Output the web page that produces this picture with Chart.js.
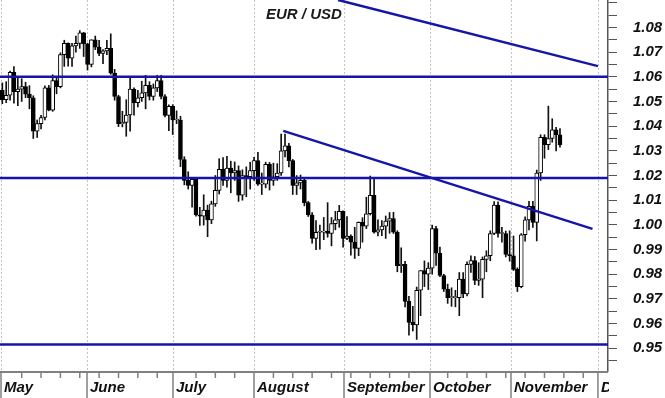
<!DOCTYPE html>
<html>
<head>
<meta charset="utf-8">
<script src="https://cdn.jsdelivr.net/npm/chart.js@4.4.1/dist/chart.umd.min.js"></script>
<style>
body { margin: 0; background: #fff; }
</style>
</head>
<body>
<canvas id="myChart" width="665" height="398"></canvas>
<script>
// EUR/USD daily candles, trading day 0 = May 2 ... 144 = Nov 18
var opens = [
  1.0545,1.0507,1.0525,1.0618,1.0540,1.0550,1.0560,1.0530,1.0515,1.0380,1.0410,1.0435,1.0555,1.0465,1.0585,1.0560,1.0690,1.0735,1.0675,1.0725,1.0735,1.0778,
  1.0733,1.0650,1.0750,1.0720,1.0695,1.0705,1.0715,1.0615,1.0520,1.0410,1.0415,1.0445,1.0550,1.0495,1.0515,1.0535,1.0565,1.0520,1.0555,1.0585,1.0520,1.0443,
  1.0480,1.0425,1.0425,1.0265,1.0180,1.0160,1.0185,1.0040,1.0035,1.0060,1.0020,1.0085,1.0140,1.0225,1.0180,1.0230,1.0210,1.0220,1.0120,1.0200,1.0195,
  1.0220,1.0260,1.0165,1.0165,1.0245,1.0180,1.0195,1.0210,1.0300,1.0320,1.0260,1.0160,1.0170,1.0180,1.0090,1.0040,0.9945,0.9970,0.9970,0.9975,0.9965,1.0005,1.0020,
  1.0055,0.9945,0.9955,0.9930,0.9905,1.0010,0.9995,1.0045,1.0120,0.9970,0.9980,0.9995,1.0015,1.0025,0.9970,0.9835,0.9840,0.9690,0.9605,0.9595,0.9735,0.9815,
  0.9800,0.9825,0.9985,0.9885,0.9795,0.9740,0.9705,0.9705,0.9705,0.9780,0.9720,0.9840,0.9855,0.9775,0.9780,0.9860,0.9875,0.9965,1.0080,0.9965,0.9965,
  0.9880,0.9875,0.9820,0.9750,0.9960,1.0020,1.0075,1.0010,1.0210,1.0355,1.0325,1.0350,1.0385,1.0365
];
var highs = [
  1.0575,1.0580,1.0623,1.0641,1.0600,1.0592,1.0578,1.0564,1.0523,1.0425,1.0444,1.0563,1.0565,1.0608,1.0598,1.0697,1.0748,1.0737,1.0735,1.0765,1.0787,1.0780,
  1.0736,1.0750,1.0765,1.0748,1.0710,1.0748,1.0774,1.0630,1.0525,1.0460,1.0507,1.0601,1.0555,1.0545,1.0582,1.0606,1.0580,1.0571,1.0606,1.0606,1.0528,1.0486,
  1.0487,1.0462,1.0440,1.0276,1.0215,1.0186,1.0190,1.0071,1.0122,1.0080,1.0096,1.0200,1.0268,1.0273,1.0278,1.0258,1.0255,1.0239,1.0223,1.0235,1.0254,
  1.0274,1.0294,1.0210,1.0254,1.0253,1.0250,1.0248,1.0368,1.0368,1.0330,1.0265,1.0200,1.0202,1.0190,1.0095,1.0050,1.0017,0.9999,1.0030,1.0090,1.0030,1.0055,1.0079,
  1.0057,1.0034,0.9960,0.9990,1.0012,1.0029,1.0112,1.0198,1.0187,1.0020,1.0017,1.0036,1.0050,1.0051,0.9976,0.9907,0.9852,0.9710,0.9670,0.9748,0.9815,0.9854,
  0.9847,0.9999,0.9994,0.9910,0.9800,0.9760,0.9745,0.9735,0.9807,0.9807,0.9850,0.9875,0.9872,0.9847,0.9870,0.9895,0.9976,1.0094,1.0093,0.9990,0.9975,
  0.9976,0.9955,0.9826,0.9965,1.0033,1.0095,1.0095,1.0222,1.0365,1.0365,1.0481,1.0430,1.0395,1.0390
];
var lows = [
  1.0491,1.0495,1.0505,1.0493,1.0483,1.0500,1.0515,1.0470,1.0350,1.0354,1.0389,1.0425,1.0462,1.0460,1.0531,1.0555,1.0642,1.0643,1.0642,1.0700,1.0715,1.0682,
  1.0627,1.0640,1.0710,1.0685,1.0653,1.0690,1.0610,1.0505,1.0398,1.0397,1.0359,1.0380,1.0444,1.0478,1.0500,1.0470,1.0506,1.0505,1.0540,1.0510,1.0437,1.0382,
  1.0366,1.0410,1.0236,1.0162,1.0145,1.0072,1.0035,0.9998,0.9999,0.9952,1.0005,1.0075,1.0125,1.0160,1.0153,1.0130,1.0180,1.0095,1.0100,1.0114,1.0145,
  1.0180,1.0160,1.0123,1.0150,1.0141,1.0160,1.0180,1.0200,1.0275,1.0235,1.0123,1.0123,1.0145,1.0077,1.0034,0.9926,0.9900,0.9902,0.9940,0.9950,0.9915,0.9980,0.9990,
  0.9910,0.9940,0.9877,0.9864,0.9875,0.9930,0.9985,1.0040,0.9966,0.9955,0.9956,0.9945,0.9966,0.9965,0.9810,0.9807,0.9668,0.9553,0.9570,0.9536,0.9632,0.9750,
  0.9738,0.9800,0.9836,0.9790,0.9730,0.9682,0.9670,0.9668,0.9632,0.9705,0.9712,0.9807,0.9758,0.9755,0.9705,0.9810,0.9855,0.9960,0.9950,0.9930,0.9870,
  0.9853,0.9815,0.9730,0.9745,0.9934,0.9980,0.9990,0.9935,1.0180,1.0270,1.0305,1.0335,1.0300,1.0315
];
var closes = [
  1.0507,1.0525,1.0618,1.0540,1.0550,1.0560,1.0530,1.0515,1.0380,1.0410,1.0435,1.0555,1.0465,1.0585,1.0560,1.0690,1.0735,1.0675,1.0725,1.0735,1.0778,1.0733,
  1.0650,1.0750,1.0720,1.0695,1.0705,1.0715,1.0615,1.0520,1.0410,1.0415,1.0445,1.0550,1.0495,1.0515,1.0535,1.0565,1.0520,1.0555,1.0585,1.0520,1.0443,1.0480,
  1.0425,1.0425,1.0265,1.0180,1.0160,1.0185,1.0040,1.0035,1.0060,1.0020,1.0085,1.0140,1.0225,1.0180,1.0230,1.0210,1.0220,1.0120,1.0200,1.0195,1.0220,
  1.0260,1.0165,1.0165,1.0245,1.0180,1.0195,1.0210,1.0300,1.0320,1.0260,1.0160,1.0170,1.0180,1.0090,1.0040,0.9945,0.9970,0.9970,0.9975,0.9965,1.0005,1.0020,1.0055,
  0.9945,0.9955,0.9930,0.9905,1.0010,0.9995,1.0045,1.0120,0.9970,0.9980,0.9995,1.0015,1.0025,0.9970,0.9835,0.9840,0.9690,0.9605,0.9595,0.9735,0.9815,0.9800,
  0.9825,0.9985,0.9885,0.9795,0.9740,0.9705,0.9705,0.9705,0.9780,0.9720,0.9840,0.9855,0.9775,0.9780,0.9860,0.9875,0.9965,1.0080,0.9965,0.9965,0.9880,
  0.9875,0.9820,0.9750,0.9960,1.0020,1.0075,1.0010,1.0210,1.0355,1.0325,1.0350,1.0385,1.0365,1.0325
];

// month names and where each month starts (in trading-day units)
var months = ['May', 'June', 'July', 'August', 'September', 'October', 'November', 'D'];
var monthStart = [-0.34, 21.87, 44.07, 64.99, 88.23, 110.44, 131.35, 153.8];

// support / resistance levels and trend lines [day, price]
var levels = [1.06, 1.019, 0.9515];
var upperTrend = [[86.7, 1.0911], [153.8, 1.0643]];
var lowerTrend = [[72.55, 1.0381], [152.4, 0.9984]];

var xMin = -0.6, xMax = 156.4;
var yMin = 0.9408, yMax = 1.0911;

var blue = '#1515a8';
var labelFont = 'italic bold 15px "Liberation Sans", Arial, sans-serif';

var bodies = [], wicks = [], bodyColors = [];
for (var i = 0; i < closes.length; i++) {
  bodies.push({ x: i, y: [opens[i], closes[i]] });
  wicks.push({ x: i, y: [lows[i], highs[i]] });
  bodyColors.push(closes[i] >= opens[i] ? '#ffffff' : '#000000');
}

var lineSets = levels.map(function (v) {
  return {
    type: 'line', data: [{ x: xMin, y: v }, { x: xMax, y: v }],
    borderColor: blue, borderWidth: 2.5, pointRadius: 0, fill: false, order: 0
  };
});
[upperTrend, lowerTrend].forEach(function (t) {
  lineSets.push({
    type: 'line', data: t.map(function (p) { return { x: p[0], y: p[1] }; }),
    borderColor: blue, borderWidth: 2.5, pointRadius: 0, fill: false, order: 0
  });
});

var monthAxis = {
  id: 'monthAxis',
  beforeDatasetsDraw: function (chart) {
    var ctx = chart.ctx, sx = chart.scales.x, area = chart.chartArea;
    ctx.save();
    ctx.strokeStyle = '#c2c2c2';
    ctx.lineWidth = 1;
    ctx.setLineDash([2, 2]);
    monthStart.forEach(function (v) {
      var px = Math.round(sx.getPixelForValue(v)) + 0.5;
      ctx.beginPath(); ctx.moveTo(px, area.top); ctx.lineTo(px, area.bottom); ctx.stroke();
    });
    ctx.restore();
  },
  afterDraw: function (chart) {
    var ctx = chart.ctx, sx = chart.scales.x, area = chart.chartArea;
    var base = area.bottom + 1;
    ctx.save();
    ctx.strokeStyle = '#808080';
    ctx.lineWidth = 2;
    ctx.beginPath(); ctx.moveTo(0, base); ctx.lineTo(area.right, base); ctx.stroke();

    ctx.lineWidth = 1.5;
    var bounds = monthStart.map(function (v) { return sx.getPixelForValue(v); });
    bounds.forEach(function (px) {
      ctx.beginPath(); ctx.moveTo(px, base); ctx.lineTo(px, chart.height); ctx.stroke();
    });
    // weekly ticks (Mondays)
    for (var d = 0; d <= xMax; d += 5) {
      var px = sx.getPixelForValue(d);
      var near = bounds.some(function (b) { return Math.abs(b - px) < 5; });
      if (near || px > area.right) continue;
      ctx.beginPath(); ctx.moveTo(px, base); ctx.lineTo(px, base + 6); ctx.stroke();
    }

    ctx.beginPath(); ctx.rect(0, area.bottom, area.right + 1, chart.height - area.bottom); ctx.clip();
    ctx.fillStyle = '#111';
    ctx.font = labelFont;
    ctx.textAlign = 'left';
    ctx.textBaseline = 'middle';
    months.forEach(function (m, k) {
      ctx.fillText(m, bounds[k] + 3, 388);
    });
    ctx.restore();

    ctx.save();
    ctx.fillStyle = '#1a1a1a';
    ctx.font = labelFont;
    ctx.textBaseline = 'middle';
    ctx.fillText('EUR / USD', 266, 15);
    ctx.restore();
  }
};

var ctx = document.getElementById('myChart').getContext('2d');
var myChart = new Chart(ctx, {
  type: 'bar',
  data: {
    datasets: [{
      label: 'body',
      data: bodies,
      backgroundColor: bodyColors,
      borderColor: '#000',
      borderWidth: 1,
      borderSkipped: false,
      barThickness: 4,
      minBarLength: 1,
      grouped: false,
      order: 1
    }, {
      label: 'wick',
      data: wicks,
      backgroundColor: '#111',
      borderWidth: 0,
      barThickness: 1,
      grouped: false,
      order: 2
    }].concat(lineSets)
  },
  options: {
    responsive: false,
    devicePixelRatio: 1,
    animation: false,
    events: [],
    layout: { padding: { left: 0, right: 0, top: 0, bottom: 27 } },
    plugins: { legend: { display: false }, tooltip: { enabled: false } },
    scales: {
      x: {
        type: 'linear', display: false, offset: false,
        min: xMin, max: xMax
      },
      y: {
        type: 'linear', position: 'right',
        min: yMin, max: yMax,
        afterBuildTicks: function (s) {
          var t = [];
          for (var k = 189; k <= 218; k++) t.push({ value: k * 0.005 });
          s.ticks = t;
        },
        afterFit: function (s) {
          s.width = 57;
          s.paddingTop = 0;
          s.paddingBottom = 0;
        },
        grid: { drawOnChartArea: false, drawTicks: true, tickLength: 9, tickColor: '#555', tickWidth: 1 },
        border: { display: true, color: '#555', width: 1.5 },
        ticks: {
          autoSkip: false,
          padding: 16,
          color: '#111',
          font: { family: '"Liberation Sans", Arial, sans-serif', size: 15, style: 'italic', weight: 'bold' },
          callback: function (v) {
            var c = Math.round(v * 1000);
            if (c % 10 !== 0 || v > 1.085) return '';
            return (c / 1000).toFixed(2);
          }
        }
      }
    }
  },
  plugins: [monthAxis]
});
</script>
</body>
</html>
